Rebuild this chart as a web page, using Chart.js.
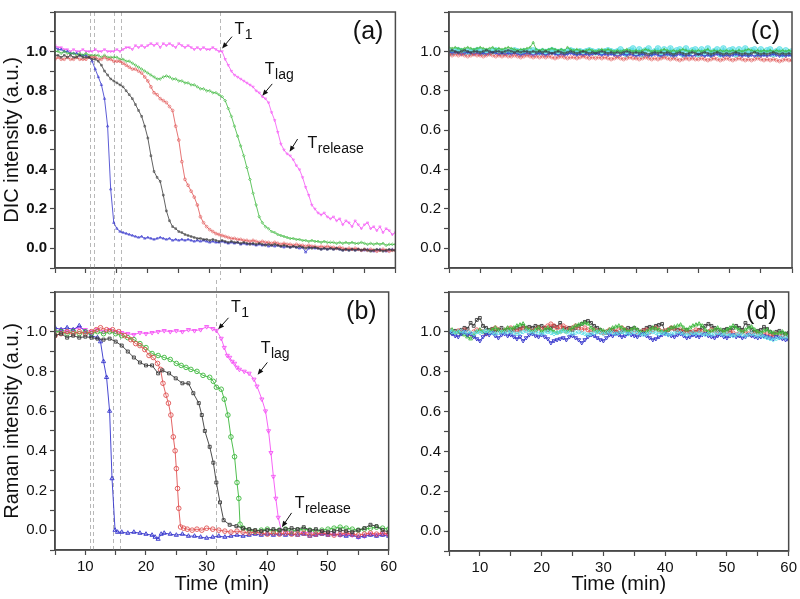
<!DOCTYPE html>
<html>
<head>
<meta charset="utf-8">
<script src="https://cdn.jsdelivr.net/npm/chart.js@4.4.0/dist/chart.umd.min.js"></script>
<style>
  html, body { margin: 0; padding: 0; background: #fff; }
  #wrap { position: relative; width: 800px; height: 599px; overflow: hidden; }
  #wrap canvas { position: absolute; }
</style>
</head>
<body>
<div id="wrap">
  <canvas id="chart-a" width="400" height="280" style="left:0;top:0"></canvas>
  <canvas id="chart-b" width="400" height="319" style="left:0;top:280px"></canvas>
  <canvas id="chart-c" width="400" height="280" style="left:400px;top:0"></canvas>
  <canvas id="chart-d" width="400" height="319" style="left:400px;top:280px"></canvas>
</div>
<script>
// shared 0.5 min sampling used by the DIC panels and the Raman control panel
const gridTime = [
    5, 5.5, 6, 6.5, 7, 7.5, 8, 8.5, 9, 9.5,
    10, 10.5, 11, 11.5, 12, 12.5, 13, 13.5, 14, 14.5,
    15, 15.5, 16, 16.5, 17, 17.5, 18, 18.5, 19, 19.5,
    20, 20.5, 21, 21.5, 22, 22.5, 23, 23.5, 24, 24.5,
    25, 25.5, 26, 26.5, 27, 27.5, 28, 28.5, 29, 29.5,
    30, 30.5, 31, 31.5, 32, 32.5, 33, 33.5, 34, 34.5,
    35, 35.5, 36, 36.5, 37, 37.5, 38, 38.5, 39, 39.5,
    40, 40.5, 41, 41.5, 42, 42.5, 43, 43.5, 44, 44.5,
    45, 45.5, 46, 46.5, 47, 47.5, 48, 48.5, 49, 49.5,
    50, 50.5, 51, 51.5, 52, 52.5, 53, 53.5, 54, 54.5,
    55, 55.5, 56, 56.5, 57, 57.5, 58, 58.5, 59, 59.5,
    60
];

/* (a) DIC intensity */
const dicBlue = [
    1.02, 1.01, 1.01, 1.0, 1.0, 0.99, 0.99, 0.99, 0.98, 0.98,
    0.98, 0.97, 0.95, 0.91, 0.87, 0.83, 0.76, 0.62, 0.30, 0.13,
    0.10, 0.085, 0.08, 0.075, 0.07, 0.065, 0.06, 0.055, 0.06, 0.05,
    0.055, 0.05, 0.045, 0.05, 0.055, 0.05, 0.045, 0.05, 0.04, 0.045,
    0.04, 0.045, 0.04, 0.045, 0.04, 0.035, 0.04, 0.035, 0.04, 0.035,
    0.03, 0.035, 0.03, 0.03, 0.035, 0.03, 0.025, 0.03, 0.025, 0.03,
    0.02, 0.025, 0.02, 0.025, 0.02, 0.015, 0.02, 0.015, 0.02, 0.01,
    0.015, 0.01, 0.015, 0.01, 0.005, 0.01, 0.005, 0.01, 0.005, 0.0,
    0.005, -0.02, 0.0, 0.005, 0.0, 0.0, -0.005, 0.0, -0.005, 0.0,
    -0.005, 0.0, -0.005, -0.01, -0.005, -0.01, -0.005, -0.01, -0.005, -0.01,
    -0.01, -0.005, -0.01, -0.015, -0.01, -0.005, -0.01, -0.015, -0.01, -0.005,
    -0.01
];
const dicBlack = [
    0.98, 0.98, 0.97, 0.98, 0.97, 0.98, 0.97, 0.97, 0.98, 0.97,
    0.97, 0.97, 0.96, 0.96, 0.95, 0.93, 0.90, 0.88, 0.86, 0.85,
    0.84, 0.83, 0.82, 0.80, 0.78, 0.76, 0.73, 0.70, 0.67, 0.62,
    0.56, 0.47, 0.39, 0.36, 0.34, 0.27, 0.19, 0.14, 0.11, 0.10,
    0.085, 0.08, 0.07, 0.065, 0.06, 0.055, 0.05, 0.05, 0.045, 0.045,
    0.04, 0.045, 0.04, 0.035, 0.04, 0.035, 0.03, 0.035, 0.03, 0.03,
    0.025, 0.03, 0.025, 0.02, 0.025, 0.02, 0.025, 0.02, 0.015, 0.02,
    0.015, 0.02, 0.015, 0.01, 0.015, 0.01, 0.005, 0.01, 0.005, 0.01,
    0.005, 0.0, 0.005, 0.0, 0.005, 0.0, -0.005, 0.0, -0.005, 0.0,
    -0.005, 0.0, -0.005, -0.01, -0.005, -0.01, -0.005, -0.01, -0.005, -0.01,
    -0.005, -0.01, -0.015, -0.01, -0.005, -0.01, -0.015, -0.01, -0.005, -0.01,
    -0.01
];
const dicRed = [
    0.96, 0.97, 0.96, 0.96, 0.97, 0.96, 0.96, 0.97, 0.96, 0.96,
    0.96, 0.97, 0.97, 0.97, 0.96, 0.96, 0.97, 0.96, 0.96, 0.95,
    0.95, 0.95, 0.94, 0.93, 0.92, 0.91, 0.91, 0.90, 0.89, 0.87,
    0.85, 0.82, 0.79, 0.78, 0.76, 0.75, 0.74, 0.72, 0.70, 0.62,
    0.55, 0.44, 0.35, 0.32, 0.29, 0.26, 0.22, 0.16, 0.13, 0.11,
    0.095, 0.085, 0.075, 0.07, 0.065, 0.06, 0.055, 0.05, 0.05, 0.045,
    0.045, 0.04, 0.04, 0.035, 0.04, 0.035, 0.03, 0.035, 0.03, 0.03,
    0.025, 0.03, 0.025, 0.02, 0.025, 0.02, 0.02, 0.015, 0.02, 0.015,
    0.015, 0.01, 0.015, 0.01, 0.01, 0.005, 0.01, 0.005, 0.01, 0.005,
    0.005, 0.0, 0.005, 0.0, -0.005, 0.0, -0.005, 0.0, -0.005, -0.01,
    -0.005, -0.01, -0.005, -0.01, -0.015, -0.01, -0.005, -0.01, -0.015, -0.01,
    -0.01
];
const dicGreen = [
    1.0, 1.0, 0.99, 1.0, 0.99, 0.99, 0.99, 0.98, 0.99, 0.98,
    0.99, 0.98, 0.98, 0.98, 0.98, 0.97, 0.98, 0.97, 0.97, 0.97,
    0.97, 0.96, 0.96, 0.95, 0.95, 0.94, 0.93, 0.92, 0.91, 0.90,
    0.89, 0.88, 0.87, 0.86, 0.86, 0.87, 0.875, 0.87, 0.86, 0.86,
    0.85, 0.85, 0.84, 0.84, 0.83, 0.83, 0.82, 0.81, 0.81, 0.80,
    0.80, 0.79, 0.79, 0.78, 0.77, 0.75, 0.71, 0.67, 0.62, 0.57,
    0.52, 0.47, 0.41, 0.35, 0.28, 0.22, 0.16, 0.13, 0.11, 0.10,
    0.085, 0.08, 0.07, 0.065, 0.06, 0.055, 0.05, 0.05, 0.045, 0.045,
    0.04, 0.04, 0.035, 0.04, 0.035, 0.035, 0.03, 0.035, 0.03, 0.03,
    0.03, 0.025, 0.03, 0.025, 0.03, 0.025, 0.03, 0.025, 0.025, 0.03,
    0.025, 0.02, 0.025, 0.02, 0.025, 0.02, 0.025, 0.015, 0.02, 0.02,
    0.02
];
const dicMagenta = [
    1.03, 1.02, 1.02, 1.01, 1.01, 1.0, 1.01, 1.0, 1.0, 1.01,
    1.0, 1.0, 1.0, 1.01, 1.0, 1.0, 1.01, 1.0, 1.0, 1.0,
    1.01, 1.0, 1.01, 1.02, 1.02, 1.01, 1.03, 1.02, 1.03, 1.02,
    1.03, 1.04, 1.03, 1.04, 1.02, 1.04, 1.03, 1.04, 1.03, 1.02,
    1.04, 1.03, 1.02, 1.03, 1.02, 1.01, 1.02, 1.01, 1.02, 1.01,
    1.01, 1.02, 1.01, 1.0, 1.0, 0.96, 0.93, 0.90, 0.88, 0.87,
    0.86, 0.85, 0.84, 0.83, 0.82, 0.80, 0.79, 0.77, 0.76, 0.74,
    0.69, 0.65, 0.59, 0.53, 0.50, 0.48, 0.47, 0.45, 0.42, 0.40,
    0.36, 0.31, 0.27, 0.22, 0.20, 0.18, 0.17, 0.18, 0.16, 0.15,
    0.16, 0.14, 0.15, 0.12, 0.14, 0.13, 0.11, 0.14, 0.12, 0.10,
    0.12, 0.13, 0.10, 0.11, 0.09, 0.11, 0.08, 0.10, 0.09, 0.07,
    0.08
];

/* (b) Raman intensity, each trace has its own sampling times */
const ramanBlueT = [5, 6, 7, 8, 9, 10, 11, 12, 12.5, 13, 13.5, 14, 14.4, 14.9, 15.3,
    16, 17, 18, 19, 20, 21, 21.5, 22, 22.5, 23, 24, 25, 26, 27, 28, 29, 30, 31, 32, 33, 34,
    35, 36, 37, 38, 39, 40, 41, 42, 43, 44, 45, 46, 47, 48, 49, 50, 51, 52, 53, 54, 55, 56,
    57, 58, 59, 60];
const ramanBlue = [1.02, 1.01, 1.02, 1.01, 1.03, 1.0, 0.98, 0.97, 0.95, 0.85, 0.77, 0.60, 0.26, 0.0, -0.01,
    -0.01, -0.015, -0.01, -0.015, -0.02, -0.025, -0.035, -0.045, -0.02, -0.015, -0.02, -0.025, -0.02, -0.03, -0.03, -0.035, -0.04, -0.035, -0.03, -0.035, -0.03,
    -0.025, -0.03, -0.025, -0.02, -0.025, -0.02, -0.025, -0.02, -0.025, -0.02, -0.025, -0.02, -0.03, -0.025, -0.02, -0.025, -0.02, -0.025, -0.03, -0.025, -0.035, -0.03,
    -0.025, -0.03, -0.025, -0.03];

const ramanBlackT = [5, 6, 7, 8, 9, 10, 11, 12, 13, 14, 15, 16, 17, 18, 19, 20, 21, 22,
    22.7, 23.8, 24.9, 26, 27, 27.8, 28.7, 29.2, 29.7, 30.5, 31.1, 31.6, 32.2, 32.8, 33.8, 34.9,
    36, 37, 38, 39, 40, 41, 42, 43, 44, 45, 46, 47, 48, 49, 50, 51, 52, 53, 54, 55, 56, 57, 58, 59, 60];
const ramanBlack = [0.98, 0.99, 0.97, 0.98, 0.97, 0.975, 0.97, 0.965, 0.96, 0.965, 0.95, 0.93, 0.90, 0.87, 0.845, 0.83, 0.83, 0.79,
    0.805, 0.79, 0.765, 0.74, 0.74, 0.69, 0.64, 0.58, 0.50, 0.42, 0.34, 0.24, 0.14, 0.05, 0.027, 0.02,
    0.01, 0.005, 0.0, -0.005, 0.0, 0.005, 0.0, 0.005, 0.01, 0.005, 0.015, 0.0, 0.005, -0.005, -0.01, -0.005, 0.0, -0.005, -0.01, 0.0, 0.01, 0.027, 0.02, 0.0, -0.01];

const ramanRedT = [5, 6, 7, 8, 9, 10, 11,
    11.8, 12.5, 13.5, 14.5, 15.5, 16.5, 17.5, 18.3, 19, 19.8, 20.5, 21.2, 21.9, 22.4, 22.8, 23.3, 23.7, 24.1, 24.5,
    24.8, 25, 25.2, 25.4, 25.7, 26.2, 26.8, 27.6, 28.4, 29.2,
    30, 31, 32, 33, 34, 35, 36, 37, 38, 39, 40, 41, 42, 43, 44, 45, 46, 47, 48, 49, 50, 51, 52, 53, 54, 55, 56, 57, 58, 59, 60];
const ramanRed = [0.98, 0.99, 1.0, 0.99, 1.0, 0.99, 1.0,
    1.01, 1.02, 1.01, 1.01, 1.0, 0.98, 0.96, 0.94, 0.93, 0.91, 0.88, 0.87, 0.84, 0.81, 0.74, 0.68, 0.64, 0.58, 0.47,
    0.40, 0.31, 0.21, 0.11, 0.016, 0.01, 0.005, 0.0, 0.005, 0.0,
    0.01, 0.005, 0.0, -0.005, -0.01, -0.005, -0.01, -0.015, -0.01, -0.015, -0.02, -0.015, -0.02, -0.015, -0.02, -0.02, -0.015, -0.025, -0.02, -0.015, -0.02, -0.025, -0.02, -0.015, -0.02, -0.025, -0.02, -0.015, -0.02, -0.015, -0.02];

const ramanGreenT = [5, 6, 7, 8, 9, 10, 11, 12, 13, 14, 15, 16, 17, 18, 19, 20, 21, 22, 23, 24, 25,
    25.8, 26.6, 27.4, 28.4, 29.4, 30.5, 31.1, 31.6, 32.4, 32.9, 33.5, 34, 34.6, 35, 35.3, 35.5,
    36, 37, 38, 39, 40, 41, 42, 43, 44, 45, 46, 47, 48, 49, 50, 51, 52, 53, 54, 55, 56, 57, 58, 59, 60];
const ramanGreen = [1.0, 1.0, 0.99, 1.0, 0.99, 1.0, 0.99, 1.0, 0.99, 1.0, 0.99, 0.98, 0.97, 0.96, 0.94, 0.92, 0.89, 0.88, 0.87, 0.86, 0.84,
    0.83, 0.82, 0.81, 0.80, 0.78, 0.77, 0.75, 0.72, 0.71, 0.66, 0.58, 0.47, 0.37, 0.24, 0.16, 0.03,
    0.01, 0.0, -0.005, 0.0, 0.005, -0.005, 0.0, 0.005, -0.005, 0.0, 0.005, 0.0, -0.005, 0.0, 0.005, 0.01, 0.015, 0.01, 0.005, 0.0, 0.005, 0.01, 0.015, 0.01, 0.005];

const ramanMagentaT = [5, 6, 7, 8, 9, 10, 11, 12, 13, 14, 15, 16, 17, 18, 19, 20, 21, 22, 23, 24, 25, 26, 27, 28, 29, 30, 31,
    31.6, 32.4, 32.9, 33.4, 33.8, 34.2, 34.6, 35, 35.4, 36.2, 37, 37.8, 38.3, 39.1, 39.7, 40.2, 40.6, 41, 41.4, 41.8, 42.3,
    43, 44, 45, 46, 47, 48, 49, 50, 51, 52, 53, 54, 55, 56, 57, 58, 59, 60];
const ramanMagenta = [1.0, 1.01, 1.0, 1.01, 1.02, 1.01, 1.0, 1.01, 1.0, 1.01, 1.0, 0.995, 0.99, 0.985, 0.995, 0.99, 0.995, 1.0, 1.005, 1.0, 1.005, 1.0, 1.01, 1.005, 1.01, 1.025, 1.015,
    1.006, 0.966, 0.92, 0.88, 0.87, 0.85, 0.84, 0.82, 0.81, 0.80, 0.79, 0.76, 0.725, 0.66, 0.60, 0.50, 0.39, 0.27, 0.16, 0.064, 0.0,
    -0.005, -0.01, -0.005, -0.015, -0.01, -0.02, -0.015, -0.02, -0.02, -0.025, -0.02, -0.025, -0.035, -0.03, -0.02, -0.025, -0.02, -0.025];

/* (c) DIC control */
const dicCtrlBlack = [
    1.0, 1.005, 1.0, 0.995, 1.0, 1.005, 1.0, 0.995, 1.0, 1.0,
    0.995, 1.0, 1.005, 1.0, 0.995, 1.0, 1.0, 0.995, 1.0, 1.005,
    1.0, 0.995, 1.0, 0.995, 1.0, 1.0, 0.995, 1.0, 0.995, 1.0,
    0.995, 1.0, 0.995, 0.99, 0.995, 1.0, 0.995, 0.99, 0.995, 1.0,
    0.995, 0.99, 0.995, 1.0, 0.995, 0.99, 0.995, 0.99, 0.995, 1.0,
    0.995, 0.99, 0.995, 0.99, 0.995, 0.99, 0.995, 1.0, 0.995, 0.99,
    0.995, 0.99, 0.995, 0.99, 0.985, 0.99, 0.995, 0.99, 0.995, 0.99,
    0.995, 0.99, 0.985, 0.99, 0.995, 0.99, 0.985, 0.99, 0.995, 0.99,
    0.985, 0.99, 0.995, 0.99, 0.985, 0.99, 0.995, 0.99, 0.985, 0.99,
    0.985, 0.99, 0.995, 0.99, 0.985, 0.99, 0.985, 0.99, 0.995, 0.99,
    0.985, 0.99, 0.985, 0.99, 0.995, 0.99, 0.985, 0.99, 0.985, 0.99,
    0.985
];
const dicCtrlRed = [
    0.985, 0.98, 0.985, 0.98, 0.985, 0.98, 0.975, 0.98, 0.985, 0.98,
    0.98, 0.975, 0.98, 0.985, 0.98, 0.975, 0.98, 0.975, 0.98, 0.975,
    0.975, 0.98, 0.975, 0.97, 0.975, 0.98, 0.975, 0.97, 0.975, 0.97,
    0.975, 0.97, 0.975, 0.97, 0.965, 0.97, 0.975, 0.97, 0.965, 0.97,
    0.97, 0.965, 0.97, 0.975, 0.97, 0.965, 0.97, 0.965, 0.97, 0.965,
    0.97, 0.965, 0.96, 0.965, 0.97, 0.965, 0.96, 0.965, 0.97, 0.965,
    0.965, 0.96, 0.965, 0.97, 0.965, 0.96, 0.965, 0.96, 0.965, 0.97,
    0.965, 0.96, 0.965, 0.96, 0.955, 0.96, 0.965, 0.96, 0.965, 0.96,
    0.96, 0.965, 0.96, 0.955, 0.96, 0.965, 0.96, 0.955, 0.96, 0.965,
    0.96, 0.955, 0.96, 0.965, 0.96, 0.955, 0.96, 0.955, 0.96, 0.965,
    0.96, 0.955, 0.96, 0.955, 0.96, 0.955, 0.95, 0.955, 0.96, 0.955,
    0.955
];
const dicCtrlGreen = [
    1.02, 1.015, 1.02, 1.015, 1.01, 1.015, 1.02, 1.015, 1.01, 1.015,
    1.02, 1.015, 1.01, 1.015, 1.02, 1.01, 1.015, 1.01, 1.015, 1.02,
    1.015, 1.01, 1.005, 1.01, 1.01, 1.015, 1.02, 1.045, 1.01, 1.005,
    1.01, 1.005, 1.01, 1.015, 1.01, 1.005, 1.01, 1.005, 1.02, 1.01,
    1.005, 1.01, 1.005, 1.0, 1.005, 1.01, 1.005, 1.0, 1.005, 1.01,
    1.005, 1.01, 1.005, 1.0, 1.005, 1.0, 1.005, 1.01, 1.005, 1.0,
    1.005, 1.0, 1.005, 1.01, 1.005, 1.0, 1.005, 1.0, 1.005, 1.01,
    1.005, 1.0, 1.005, 1.0, 1.005, 1.01, 1.005, 1.0, 1.005, 1.0,
    1.005, 1.0, 1.005, 1.01, 1.0, 1.005, 1.0, 1.005, 1.0, 1.005,
    1.0, 1.005, 1.0, 1.005, 1.0, 1.005, 1.01, 1.005, 1.0, 1.005,
    1.0, 1.005, 1.0, 1.005, 1.0, 1.005, 1.0, 1.005, 1.0, 1.005,
    1.0
];
const dicCtrlBlue = [
    0.995, 0.99, 0.995, 0.99, 0.985, 0.99, 0.995, 0.99, 0.985, 0.99,
    0.985, 0.99, 0.985, 0.99, 0.995, 0.99, 0.985, 0.99, 0.985, 0.99,
    0.985, 0.99, 0.985, 0.98, 0.985, 0.99, 0.985, 0.98, 0.985, 0.99,
    0.985, 0.98, 0.985, 0.99, 0.985, 0.98, 0.985, 0.98, 0.985, 0.99,
    0.985, 0.98, 0.985, 0.98, 0.985, 0.98, 0.985, 0.99, 0.985, 0.98,
    0.985, 0.98, 0.985, 0.98, 0.975, 0.98, 0.985, 0.98, 0.985, 0.98,
    0.975, 0.98, 0.985, 0.98, 0.975, 0.98, 0.985, 0.98, 0.975, 0.98,
    0.985, 0.98, 0.975, 0.98, 0.985, 0.98, 0.975, 0.98, 0.975, 0.98,
    0.985, 0.98, 0.975, 0.98, 0.975, 0.98, 0.985, 0.98, 0.975, 0.98,
    0.975, 0.98, 0.985, 0.98, 0.975, 0.98, 0.975, 0.98, 0.975, 0.98,
    0.975, 0.98, 0.975, 0.98, 0.985, 0.98, 0.975, 0.98, 0.975, 0.98,
    0.975
];
const dicCtrlCyan = [
    1.0, 0.995, 1.0, 1.005, 1.0, 0.995, 1.0, 0.995, 1.0, 1.005,
    1.0, 0.995, 1.0, 0.995, 1.0, 1.005, 1.0, 0.995, 1.0, 0.995,
    1.0, 1.005, 1.0, 0.995, 1.0, 0.995, 1.0, 1.005, 1.0, 0.995,
    1.0, 0.995, 1.0, 1.005, 1.0, 0.995, 1.0, 0.995, 1.0, 1.005,
    1.0, 0.995, 1.0, 0.995, 1.0, 1.005, 1.0, 0.995, 1.0, 0.995,
    1.0, 1.005, 1.0, 0.995, 1.0, 1.01, 0.995, 0.985, 1.005, 1.015,
    0.99, 1.01, 0.985, 1.005, 1.015, 0.99, 1.0, 1.015, 0.985, 1.01,
    0.99, 1.015, 0.985, 1.005, 1.01, 0.985, 1.015, 0.99, 1.005, 1.01,
    0.985, 1.01, 0.99, 1.015, 0.985, 1.0, 1.01, 0.985, 1.015, 0.99,
    1.005, 1.01, 0.985, 1.01, 0.99, 1.015, 0.985, 1.005, 1.01, 0.985,
    1.01, 0.99, 1.005, 1.01, 0.985, 1.0, 1.01, 0.985, 1.005, 0.99,
    1.0
];

/* (d) Raman control */
const ramanCtrlBlack = [
    1.0, 0.995, 1.005, 1.0, 1.01, 1.02, 1.015, 1.045, 1.03, 1.06,
    1.07, 1.03, 1.02, 1.01, 1.015, 1.0, 1.01, 1.02, 1.005, 1.01,
    1.0, 1.01, 1.02, 1.015, 1.03, 1.02, 1.025, 1.02, 1.03, 1.025,
    1.03, 1.02, 1.01, 1.02, 1.03, 1.025, 1.045, 1.02, 1.015, 1.02,
    1.01, 1.02, 1.03, 1.04, 1.05, 1.055, 1.045, 1.03, 1.02, 1.01,
    1.0, 0.995, 1.005, 1.01, 1.0, 0.995, 1.0, 1.01, 1.02, 1.015,
    1.02, 1.01, 1.0, 1.01, 1.02, 1.025, 1.02, 1.03, 1.035, 1.04,
    1.0, 1.01, 1.02, 1.015, 1.01, 1.005, 1.0, 1.01, 1.0, 0.995,
    1.0, 1.01, 1.02, 1.03, 1.04, 1.03, 1.02, 1.01, 1.0, 1.01,
    1.015, 1.01, 1.02, 1.03, 1.02, 1.01, 1.045, 1.03, 1.01, 1.0,
    1.005, 1.01, 1.025, 1.015, 1.0, 0.99, 1.0, 1.005, 0.995, 0.99,
    0.995
];
const ramanCtrlRed = [
    1.01, 1.0, 0.995, 1.005, 1.0, 1.01, 1.0, 0.99, 1.0, 1.01,
    1.005, 1.0, 0.99, 1.0, 1.01, 1.02, 1.01, 1.0, 1.005, 1.015,
    1.02, 1.01, 1.0, 1.01, 1.02, 1.015, 1.01, 1.0, 1.01, 1.02,
    1.01, 1.02, 1.03, 1.04, 1.03, 1.02, 1.025, 1.03, 1.02, 1.01,
    1.02, 1.03, 1.02, 1.01, 1.02, 1.01, 1.0, 1.01, 1.005, 1.0,
    0.995, 1.0, 1.01, 1.005, 1.0, 1.01, 1.02, 1.01, 1.0, 1.005,
    1.01, 1.0, 0.995, 1.005, 1.01, 1.0, 1.01, 1.02, 1.01, 1.0,
    1.005, 1.01, 1.02, 1.015, 1.0, 1.01, 1.005, 1.0, 0.995, 1.0,
    1.01, 1.005, 1.0, 0.995, 1.0, 1.01, 1.005, 0.99, 1.0, 0.995,
    0.99, 1.0, 0.995, 0.985, 0.99, 1.0, 0.995, 0.99, 0.985, 0.99,
    0.995, 0.99, 0.985, 0.99, 0.98, 0.985, 0.99, 0.98, 0.975, 0.98,
    0.975
];
const ramanCtrlGreen = [
    1.0, 1.01, 0.995, 1.0, 0.99, 0.985, 0.975, 0.965, 0.98, 1.0,
    1.01, 1.0, 0.995, 1.005, 1.01, 1.02, 1.01, 1.0, 1.01, 1.02,
    1.015, 1.02, 1.03, 1.035, 1.04, 1.02, 1.01, 1.0, 1.01, 1.02,
    1.0, 1.01, 1.02, 1.01, 1.0, 0.995, 1.0, 1.01, 1.0, 1.01,
    1.02, 1.03, 1.035, 1.04, 1.045, 1.04, 1.02, 1.01, 1.0, 1.01,
    1.005, 1.0, 1.01, 1.02, 1.025, 1.03, 1.02, 1.01, 1.0, 1.01,
    1.02, 1.01, 1.0, 0.995, 1.0, 1.01, 1.02, 1.015, 1.01, 1.0,
    1.0, 1.01, 1.02, 1.025, 1.03, 1.035, 1.02, 1.01, 1.02, 1.03,
    1.035, 1.04, 1.03, 1.01, 1.0, 1.005, 1.01, 1.02, 1.01, 1.0,
    1.01, 1.02, 1.03, 1.02, 1.01, 1.0, 1.01, 1.02, 1.025, 1.01,
    1.0, 0.995, 1.005, 1.01, 1.0, 0.995, 0.99, 0.995, 1.0, 0.99,
    0.985
];
const ramanCtrlBlue = [
    1.0, 0.99, 0.98, 0.975, 0.99, 1.0, 0.985, 0.99, 0.975, 0.965,
    0.955, 0.975, 0.99, 0.985, 0.995, 0.98, 0.97, 0.985, 0.99, 0.98,
    0.985, 0.975, 0.965, 0.975, 0.955, 0.97, 0.985, 0.99, 0.98, 0.975,
    0.985, 0.975, 0.965, 0.945, 0.955, 0.96, 0.965, 0.97, 0.96, 0.975,
    0.98, 0.97, 0.96, 0.945, 0.96, 0.975, 0.985, 0.98, 0.97, 0.96,
    0.955, 0.97, 0.985, 0.98, 0.99, 0.985, 0.975, 0.98, 0.99, 0.985,
    0.98, 0.975, 0.985, 0.99, 0.98, 0.97, 0.96, 0.965, 0.975, 0.985,
    0.99, 0.985, 0.98, 0.975, 0.985, 0.99, 0.98, 0.97, 0.975, 0.985,
    0.98, 0.975, 0.985, 0.99, 0.98, 0.975, 0.97, 0.98, 0.985, 0.975,
    0.97, 0.98, 0.985, 0.975, 0.98, 0.97, 0.975, 0.985, 0.98, 0.975,
    0.97, 0.975, 0.98, 0.975, 0.97, 0.965, 0.975, 0.97, 0.965, 0.96,
    0.96
];
const ramanCtrlCyan = [
    1.01, 1.0, 0.995, 1.0, 1.005, 0.995, 1.0, 0.995, 0.99, 1.0,
    0.995, 1.0, 1.005, 1.0, 0.995, 0.99, 0.995, 1.0, 0.995, 1.0,
    1.0, 0.995, 0.99, 0.995, 1.0, 1.005, 1.0, 0.995, 1.0, 0.995,
    0.99, 0.995, 1.0, 0.995, 0.99, 0.995, 1.0, 1.005, 1.0, 0.995,
    0.99, 0.995, 1.0, 0.995, 0.99, 0.985, 0.99, 0.995, 1.0, 0.995,
    0.99, 0.995, 1.0, 0.995, 0.99, 0.995, 1.0, 0.995, 0.99, 0.995,
    1.0, 0.995, 0.99, 0.985, 0.99, 0.995, 1.0, 0.995, 0.99, 0.995,
    0.99, 0.985, 0.99, 0.995, 1.0, 0.995, 0.99, 0.985, 0.99, 0.995,
    0.99, 0.995, 0.99, 0.985, 0.99, 0.985, 0.99, 0.995, 0.99, 0.985,
    0.99, 0.985, 0.98, 0.985, 0.99, 0.985, 0.98, 0.985, 0.99, 0.985,
    0.98, 0.985, 0.975, 0.97, 0.965, 0.96, 0.965, 0.97, 0.975, 0.97,
    0.975
];

// times of the grey dashed guide lines in (a) and (b)
const guideTimes = [10.7, 11.3, 14.6, 15.7, 31.6];

// arrow annotations: text anchor, arrow tail, arrow tip (data units)
const dicNotes = [
    { sub: '1', tx: 34.0, ty: 1.09, x0: 33.6, y0: 1.075, x1: 32.0, y1: 1.015 },
    { sub: 'lag', tx: 38.9, ty: 0.885, x0: 40.1, y0: 0.835, x1: 38.5, y1: 0.775 },
    { sub: 'release', tx: 45.8, ty: 0.51, x0: 44.2, y0: 0.555, x1: 42.9, y1: 0.49 }
];
const ramanNotes = [
    { sub: '1', tx: 34.0, ty: 1.097, x0: 33.6, y0: 1.07, x1: 31.9, y1: 1.012 },
    { sub: 'lag', tx: 38.9, ty: 0.894, x0: 40.0, y0: 0.845, x1: 38.4, y1: 0.783 },
    { sub: 'release', tx: 44.5, ty: 0.111, x0: 44.0, y0: 0.087, x1: 42.4, y1: 0.015 }
];

const FONT = "'Liberation Sans', Arial, Helvetica, sans-serif";
const AXIS = '#4a4a4a';
const COL = {
    black: '#3a3a3a',
    red: '#e05252',
    green: '#3cb83c',
    blue: '#3434cc',
    magenta: '#f553f5',
    cyan: '#62e0e8'
};

// per canvas decoration: panel letter, guide lines, annotations
const decor = {
    'chart-a': { label: '(a)', guides: 'down', notes: dicNotes },
    'chart-b': { label: '(b)', guides: 'up', notes: ramanNotes },
    'chart-c': { label: '(c)', guides: null, notes: [] },
    'chart-d': { label: '(d)', guides: null, notes: [] }
};

function pts(times, values) {
    return values.map((v, i) => ({ x: times[i], y: v }));
}

function trace(times, values, color, style, radius, rotation) {
    const big = radius > 1.8;
    return {
        data: pts(times, values),
        borderColor: color,
        backgroundColor: 'rgba(255,255,255,0)',
        borderWidth: big ? 0.9 : 0.8,
        pointStyle: style,
        pointRadius: radius,
        pointBorderWidth: big ? 0.9 : 0.6,
        pointBorderColor: color,
        pointBackgroundColor: 'rgba(255,255,255,0)',
        pointRotation: rotation || 0,
        tension: 0
    };
}

const decorPlugin = {
    id: 'panelDecor',
    beforeDatasetsDraw(chart) {
        const d = decor[chart.canvas.id];
        if (!d || !d.guides) return;
        const { ctx, chartArea } = chart;
        const x = chart.scales.x;
        const y0 = d.guides === 'down' ? chartArea.top : 0;
        const y1 = d.guides === 'down' ? chart.height : chartArea.bottom;
        ctx.save();
        ctx.strokeStyle = '#b8b8b8';
        ctx.lineWidth = 1;
        ctx.setLineDash([4, 3]);
        guideTimes.forEach((t) => {
            const px = Math.round(x.getPixelForValue(t)) + 0.5;
            ctx.beginPath();
            ctx.moveTo(px, y0);
            ctx.lineTo(px, y1);
            ctx.stroke();
        });
        ctx.restore();
    },
    afterDraw(chart) {
        const d = decor[chart.canvas.id];
        const { ctx, chartArea } = chart;
        const x = chart.scales.x;
        const y = chart.scales.y;
        ctx.save();
        // box around the plot
        ctx.strokeStyle = AXIS;
        ctx.lineWidth = 1.5;
        ctx.strokeRect(chartArea.left, chartArea.top, chartArea.right - chartArea.left, chartArea.bottom - chartArea.top);

        ctx.fillStyle = '#111';
        ctx.font = '25px ' + FONT;
        ctx.textAlign = 'right';
        ctx.textBaseline = 'alphabetic';
        ctx.fillText(d.label, chartArea.right - 12, chartArea.top + 27);

        ctx.textAlign = 'left';
        d.notes.forEach((n) => {
            const tx = x.getPixelForValue(n.tx);
            const ty = y.getPixelForValue(n.ty);
            ctx.font = '16px ' + FONT;
            ctx.fillText('T', tx, ty);
            const w = ctx.measureText('T').width;
            ctx.font = '14px ' + FONT;
            ctx.fillText(n.sub, tx + w + 0.5, ty + 5);

            // arrow
            const ax = x.getPixelForValue(n.x0), ay = y.getPixelForValue(n.y0);
            const bx = x.getPixelForValue(n.x1), by = y.getPixelForValue(n.y1);
            const ang = Math.atan2(by - ay, bx - ax);
            ctx.strokeStyle = '#111';
            ctx.lineWidth = 1;
            ctx.beginPath();
            ctx.moveTo(ax, ay);
            ctx.lineTo(bx - 4 * Math.cos(ang), by - 4 * Math.sin(ang));
            ctx.stroke();
            ctx.beginPath();
            ctx.moveTo(bx, by);
            ctx.lineTo(bx - 6 * Math.cos(ang) + 2.5 * Math.sin(ang), by - 6 * Math.sin(ang) - 2.5 * Math.cos(ang));
            ctx.lineTo(bx - 6 * Math.cos(ang) - 2.5 * Math.sin(ang), by - 6 * Math.sin(ang) + 2.5 * Math.cos(ang));
            ctx.closePath();
            ctx.fill();
        });
        ctx.restore();
    }
};

function makePanel(id, opts) {
    const canvas = document.getElementById(id);
    return new Chart(canvas.getContext('2d'), {
        type: 'line',
        data: { datasets: opts.datasets },
        options: {
            responsive: false,
            animation: false,
            devicePixelRatio: 1,
            layout: { padding: opts.padding },
            plugins: { legend: { display: false }, tooltip: { enabled: false } },
            scales: {
                x: {
                    type: 'linear',
                    min: 5,
                    max: 60,
                    border: { color: AXIS, width: 1.5 },
                    grid: { drawOnChartArea: false, tickLength: 5, tickColor: AXIS, tickWidth: 1.2 },
                    ticks: {
                        stepSize: 5,
                        autoSkip: false,
                        maxRotation: 0,
                        display: opts.xLabels,
                        color: '#111',
                        padding: 3,
                        font: { family: FONT, size: 15 },
                        callback: (v) => (v % 10 === 0 ? String(v) : '')
                    },
                    title: {
                        display: opts.xLabels,
                        text: 'Time (min)',
                        color: '#111',
                        padding: { top: 0, bottom: 3 },
                        font: { family: FONT, size: 20 }
                    },
                    afterFit: (s) => { s.height = opts.xHeight; }
                },
                y: {
                    min: -0.1,
                    max: 1.2,
                    border: { color: AXIS, width: 1.5 },
                    grid: { drawOnChartArea: false, tickLength: 5, tickColor: AXIS, tickWidth: 1.2 },
                    ticks: {
                        stepSize: 0.1,
                        autoSkip: false,
                        color: '#111',
                        padding: 3,
                        font: { family: FONT, size: 15, weight: opts.boldTicks ? 'bold' : 'normal' },
                        callback: (v) => {
                            const k = Math.round(v * 10);
                            return (k >= 0 && k <= 10 && k % 2 === 0) ? (k / 10).toFixed(1) : '';
                        }
                    },
                    title: {
                        display: !!opts.yTitle,
                        text: opts.yTitle || '',
                        color: '#111',
                        padding: 0,
                        font: { family: FONT, size: 20 }
                    },
                    afterFit: (s) => { s.width = opts.yWidth; }
                }
            }
        },
        plugins: [decorPlugin]
    });
}

makePanel('chart-a', {
    padding: { top: 1, right: 4, bottom: 0, left: 0 },
    xHeight: 10,
    yWidth: 55,
    xLabels: false,
    boldTicks: true,
    yTitle: 'DIC intensity (a.u.)',
    datasets: [
        trace(gridTime, dicBlack, COL.black, 'rect', 1.2),
        trace(gridTime, dicRed, COL.red, 'circle', 1.4),
        trace(gridTime, dicGreen, COL.green, 'rectRot', 1.4),
        trace(gridTime, dicBlue, COL.blue, 'triangle', 1.4),
        trace(gridTime, dicMagenta, COL.magenta, 'triangle', 1.4, 180)
    ]
});

makePanel('chart-b', {
    padding: { top: 3, right: 4, bottom: 0, left: 0 },
    xHeight: 49,
    yWidth: 55,
    xLabels: true,
    boldTicks: false,
    yTitle: 'Raman intensity (a.u.)',
    datasets: [
        trace(ramanBlackT, ramanBlack, COL.black, 'rect', 2.1),
        trace(ramanRedT, ramanRed, COL.red, 'circle', 2.3),
        trace(ramanGreenT, ramanGreen, COL.green, 'circle', 2.3),
        trace(ramanBlueT, ramanBlue, COL.blue, 'triangle', 2.4),
        trace(ramanMagentaT, ramanMagenta, COL.magenta, 'triangle', 2.4, 180)
    ]
});

const cyanBand = trace(gridTime, dicCtrlCyan, COL.cyan, 'circle', 2.8);
cyanBand.pointBackgroundColor = 'rgba(98,224,232,0.6)';
cyanBand.borderWidth = 2;

makePanel('chart-c', {
    padding: { top: 1, right: 8, bottom: 0, left: 0 },
    xHeight: 10,
    yWidth: 49,
    xLabels: false,
    boldTicks: false,
    datasets: [
        trace(gridTime, dicCtrlBlack, COL.black, 'rect', 1.3),
        trace(gridTime, dicCtrlRed, COL.red, 'circle', 1.7),
        trace(gridTime, dicCtrlBlue, COL.blue, 'triangle', 1.5, 180),
        trace(gridTime, dicCtrlGreen, COL.green, 'triangle', 1.5),
        cyanBand
    ]
});

makePanel('chart-d', {
    padding: { top: 4, right: 8, bottom: 0, left: 0 },
    xHeight: 48,
    yWidth: 49,
    xLabels: true,
    boldTicks: false,
    datasets: [
        trace(gridTime, ramanCtrlCyan, COL.cyan, 'rectRot', 2.2),
        trace(gridTime, ramanCtrlBlue, COL.blue, 'triangle', 2.2, 180),
        trace(gridTime, ramanCtrlGreen, COL.green, 'triangle', 2.2),
        trace(gridTime, ramanCtrlRed, COL.red, 'circle', 2.0),
        trace(gridTime, ramanCtrlBlack, COL.black, 'rect', 2.0)
    ]
});
</script>
</body>
</html>
